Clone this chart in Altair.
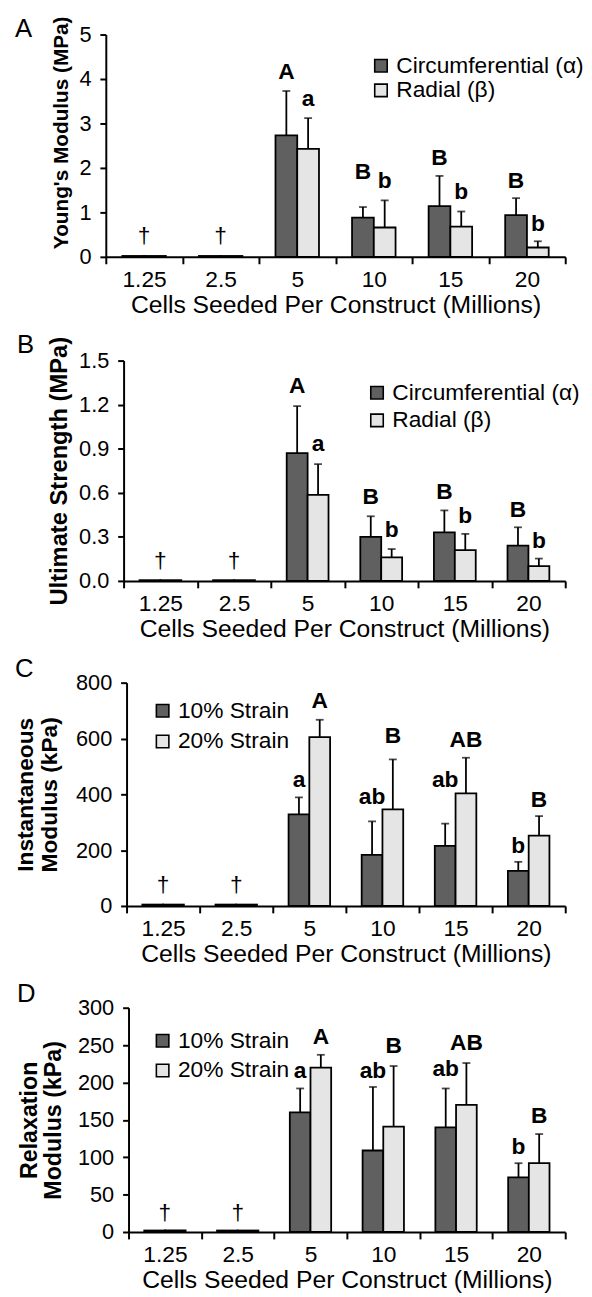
import altair as alt
import pandas as pd

FONT = "Liberation Sans"
DARK = "#606060"
LIGHT = "#e5e5e5"

categories = ["1.25", "2.5", "5", "10", "15", "20"]
x_title = "Cells Seeded Per Construct (Millions)"

# Panel A: Young's modulus (MPa)
a_series = ["Circumferential (α)", "Radial (β)"]
a_circ = [0.02, 0.02, 2.73, 0.88, 1.14, 0.94]
a_circ_sd = [0, 0, 1.00, 0.24, 0.68, 0.38]
a_rad = [0.02, 0.02, 2.43, 0.66, 0.68, 0.21]
a_rad_sd = [0, 0, 0.69, 0.61, 0.34, 0.14]
a_labels = [("5", 0, "A", 4.01), ("5", 1, "a", 3.40), ("10", 0, "B", 1.76), ("10", 1, "b", 1.54),
            ("15", 0, "B", 2.06), ("15", 1, "b", 1.29), ("20", 0, "B", 1.54), ("20", 1, "b", 0.59)]
a_dagger = 0.31

# Panel B: Ultimate strength (MPa)
b_circ = [0.005, 0.005, 0.87, 0.30, 0.33, 0.24]
b_circ_sd = [0, 0, 0.32, 0.14, 0.15, 0.125]
b_rad = [0.005, 0.005, 0.585, 0.16, 0.21, 0.10]
b_rad_sd = [0, 0, 0.21, 0.057, 0.11, 0.052]
b_labels = [("5", 0, "A", 1.28), ("5", 1, "a", 0.884), ("10", 0, "B", 0.526), ("10", 1, "b", 0.302),
            ("15", 0, "B", 0.56), ("15", 1, "b", 0.392), ("20", 0, "B", 0.437), ("20", 1, "b", 0.224)]
b_dagger = 0.09

# Panel C: Instantaneous modulus (kPa)
cd_series = ["10% Strain", "20% Strain"]
c_10 = [5, 5, 328, 183, 215, 126]
c_10_sd = [0, 0, 61, 120, 80, 32]
c_20 = [5, 5, 605, 346, 403, 252]
c_20_sd = [0, 0, 62, 179, 128, 70]
c_labels = [("5", 0, "a", 425), ("5", 1, "A", 708), ("10", 0, "ab", 366), ("10", 1, "B", 584),
            ("15", 0, "ab", 427), ("15", 1, "AB", 570), ("20", 0, "b", 189), ("20", 1, "B", 356)]
c_dagger = 50

# Panel D: Relaxation modulus (kPa)
d_10 = [2, 2, 160, 109, 140, 73]
d_10_sd = [0, 0, 32, 85, 52, 19]
d_20 = [2, 2, 220, 141, 170, 92]
d_20_sd = [0, 0, 17, 81, 56, 39]
d_labels = [("5", 0, "a", 206), ("5", 1, "A", 251), ("10", 0, "ab", 206), ("10", 1, "B", 239),
            ("15", 0, "ab", 209), ("15", 1, "AB", 243), ("20", 0, "b", 104.5), ("20", 1, "B", 145.6)]
d_dagger = 15.4

W = 465


def panel(letter, letter_x, letter_y, inset, series, m1, s1, m2, s2, ytitle, ytitle_size,
          ytitle_pad, ytitle_y, ymax, yticks, height, legend_x, legend_y, legend_row, labels,
          dagger_y):
    rows = []
    for i, c in enumerate(categories):
        rows.append(dict(cat=c, series=series[0], mean=m1[i], sd=s1[i], top=m1[i] + s1[i]))
        rows.append(dict(cat=c, series=series[1], mean=m2[i], sd=s2[i], top=m2[i] + s2[i]))
    df = pd.DataFrame(rows)
    err = df[df["sd"] > 0]
    lab = pd.DataFrame([dict(cat=c, series=series[k], text=t, pos=v) for c, k, t, v in labels])
    dag = pd.DataFrame(dict(cat=categories[:2], text=["†", "†"], pos=[dagger_y, dagger_y]))
    let = pd.DataFrame(dict(text=[letter]))

    x_axis = alt.Axis(title=x_title, tickBand="extent", labelAngle=0, labelFontSize=23,
                      titleFontSize=25, titleFontWeight="normal", labelPadding=5, tickSize=7,
                      titlePadding=1)
    y_kw = dict(title=ytitle, values=yticks, labelFontSize=22, titleFontSize=ytitle_size,
                titleFontWeight="bold", tickSize=6, labelPadding=9, titlePadding=ytitle_pad,
                titleLineHeight=24, offset=-inset)
    if ytitle_y is not None:
        y_kw["titleY"] = ytitle_y
    y_axis = alt.Axis(**y_kw)

    def X():
        return alt.X("cat:N", sort=categories,
                     scale=alt.Scale(paddingInner=0, paddingOuter=0, range=[inset, W]),
                     axis=x_axis)

    def XO():
        return alt.XOffset("series:N", sort=series,
                           scale=alt.Scale(domain=series, paddingInner=0, paddingOuter=0.76))

    def Y(field):
        return alt.Y(field, scale=alt.Scale(domain=[0, ymax], nice=False), axis=y_axis)

    bars = alt.Chart(df).mark_bar(stroke="black", strokeWidth=1.8).encode(
        x=X(), xOffset=XO(), y=Y("mean:Q"),
        fill=alt.Fill("series:N", sort=series, scale=alt.Scale(domain=series, range=[DARK, LIGHT]),
                      legend=alt.Legend(title=None, orient="none", legendX=legend_x, legendY=legend_y,
                                        symbolType="square", symbolSize=160,
                                        symbolStrokeColor="black", symbolStrokeWidth=1.6,
                                        labelFontSize=23, labelFont=FONT, labelLimit=400,
                                        rowPadding=legend_row, labelOffset=4)),
    )
    rules = alt.Chart(err).mark_rule(color="black", strokeWidth=1.8).encode(
        x=X(), xOffset=XO(), y=Y("mean:Q"), y2="top:Q")
    caps = alt.Chart(err).mark_tick(color="black", thickness=1.8, size=8).encode(
        x=X(), xOffset=XO(), y=Y("top:Q"))
    texts = alt.Chart(lab).mark_text(fontSize=23, fontWeight="bold", font=FONT,
                                     baseline="alphabetic", color="black").encode(
        x=X(), xOffset=XO(), y=Y("pos:Q"), text="text:N")
    daggers = alt.Chart(dag).mark_text(fontSize=23, font=FONT, baseline="alphabetic",
                                       color="black").encode(
        x=X(), y=Y("pos:Q"), text="text:N")
    letter_mark = alt.Chart(let).mark_text(fontSize=26, font=FONT, align="left",
                                           baseline="alphabetic", color="black").encode(
        x=alt.value(letter_x), y=alt.value(letter_y), text="text:N")
    return alt.layer(bars, rules, caps, texts, daggers, letter_mark).properties(
        width=W, height=height)


pA = panel("A", -92, 2, 0, a_series, a_circ, a_circ_sd, a_rad, a_rad_sd,
           "Young's Modulus (MPa)", 21, 8, 99, 5, [0, 1, 2, 3, 4, 5], 225, 267, 20, 1,
           a_labels, a_dagger)
pB = panel("B", -90, -8, 18, a_series, b_circ, b_circ_sd, b_rad, b_rad_sd,
           "Ultimate Strength (MPa)", 24, 7, None, 1.5, [0, 0.3, 0.6, 0.9, 1.2, 1.5], 223,
           263, 21, 4, b_labels, b_dagger)
pC = panel("C", -92, -6, 21, cd_series, c_10, c_10_sd, c_20, c_20_sd,
           ["Instantaneous", "Modulus (kPa)"], 23, 14, None, 800, [0, 200, 400, 600, 800], 226,
           46, 17, 7, c_labels, c_dagger)
pD = panel("D", -90, -6, 23, cd_series, d_10, d_10_sd, d_20, d_20_sd,
           ["Relaxation", "Modulus (kPa)"], 23.5, 12, None, 300, [0, 50, 100, 150, 200, 250, 300],
           227, 46, 22, 6, d_labels, d_dagger)

chart = alt.vconcat(pA, pB, pC, pD, spacing=15).resolve_scale(
    fill="independent", xOffset="independent", x="independent", y="independent"
).configure(font=FONT).configure_view(stroke=None).configure_axis(
    domainColor="black", domainWidth=2, tickColor="black", tickWidth=2, labelColor="black",
    titleColor="black", grid=False, labelFont=FONT, titleFont=FONT
).configure_legend(labelColor="black").properties(
    padding={"left": 7, "top": 0, "right": 0, "bottom": 3})

chart.save("out.html", embed_options={"renderer": "svg", "actions": False})
